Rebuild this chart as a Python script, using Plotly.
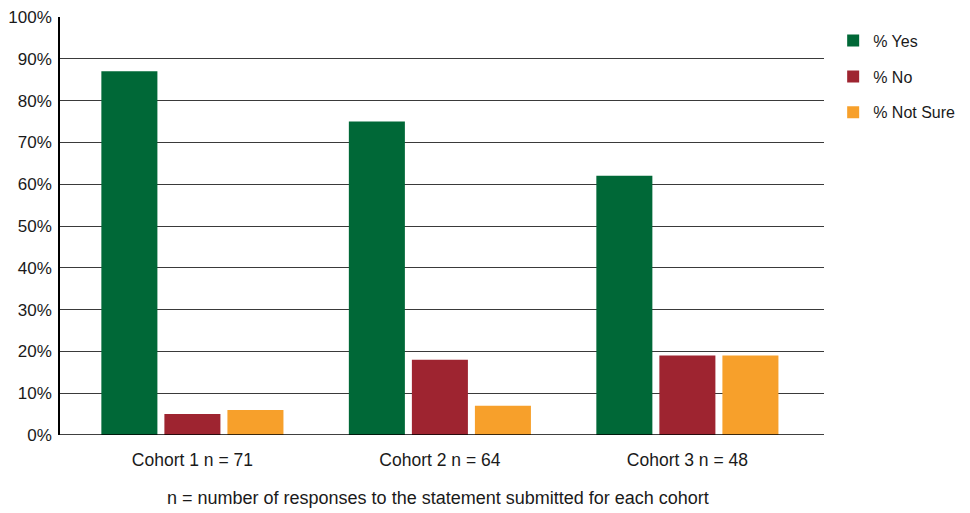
import plotly.graph_objects as go

# Survey responses by cohort
cohorts = ["Cohort 1 n = 71", "Cohort 2 n = 64", "Cohort 3 n = 48"]
pct_yes = [87, 75, 62]
pct_no = [5, 18, 19]
pct_not_sure = [6, 7, 19]

series_names = ["% Yes", "% No", "% Not Sure"]
series_colors = ["#006837", "#9E2430", "#F7A02B"]
series_values = [pct_yes, pct_no, pct_not_sure]

y_ticks = list(range(0, 101, 10))
y_tick_labels = [f"{v}%" for v in y_ticks]

FONT = "Liberation Sans, Arial, sans-serif"
TXT = "#1a1a1a"

fig = go.Figure()
x_idx = list(range(len(cohorts)))
for i, (name, color, vals) in enumerate(zip(series_names, series_colors, series_values)):
    fig.add_trace(go.Bar(
        x=x_idx, y=vals, name=name,
        marker=dict(color=color, line=dict(width=0)),
        legendgroup=f"g{i}",
        hoverinfo="skip",
    ))

fig.update_layout(
    width=970, height=513,
    margin=dict(l=60, r=146, t=17, b=78, autoexpand=False),
    paper_bgcolor="white", plot_bgcolor="white",
    barmode="group", bargap=0.236, bargroupgap=0.111,
    font=dict(family=FONT, size=17, color=TXT),
    showlegend=True,
    legend=dict(
        x=1.012, y=0.984, xanchor="left", yanchor="top",
        font=dict(family=FONT, size=16, color=TXT),
        traceorder="grouped", tracegroupgap=12,
        bgcolor="rgba(0,0,0,0)",
    ),
    xaxis=dict(
        tickmode="array", tickvals=x_idx, ticktext=cohorts,
        range=[-0.535, 2.552],
        showgrid=False, zeroline=False, showline=False,
        ticks="", tickfont=dict(family=FONT, size=17.5, color=TXT),
        ticklabelstandoff=12,
    ),
    yaxis=dict(
        range=[0, 100], tickmode="array", tickvals=y_ticks, ticktext=y_tick_labels,
        showgrid=True, gridcolor="#3a3a3a", gridwidth=1.3,
        zeroline=False,
        showline=True, linecolor="#000000", linewidth=1.5,
        ticks="", tickfont=dict(family=FONT, size=17, color=TXT),
        ticklabelstandoff=3,
    ),
    annotations=[dict(
        text="n = number of responses to the statement submitted for each cohort",
        xref="paper", yref="paper", x=0.495, y=-0.151,
        xanchor="center", yanchor="middle", showarrow=False,
        font=dict(family=FONT, size=18, color=TXT),
    )],
)

# Baseline along 0%
fig.add_shape(type="line", xref="paper", yref="y", x0=0, x1=1, y0=0, y1=0,
              line=dict(color="#000000", width=1.5))

fig.write_html("out.html")
